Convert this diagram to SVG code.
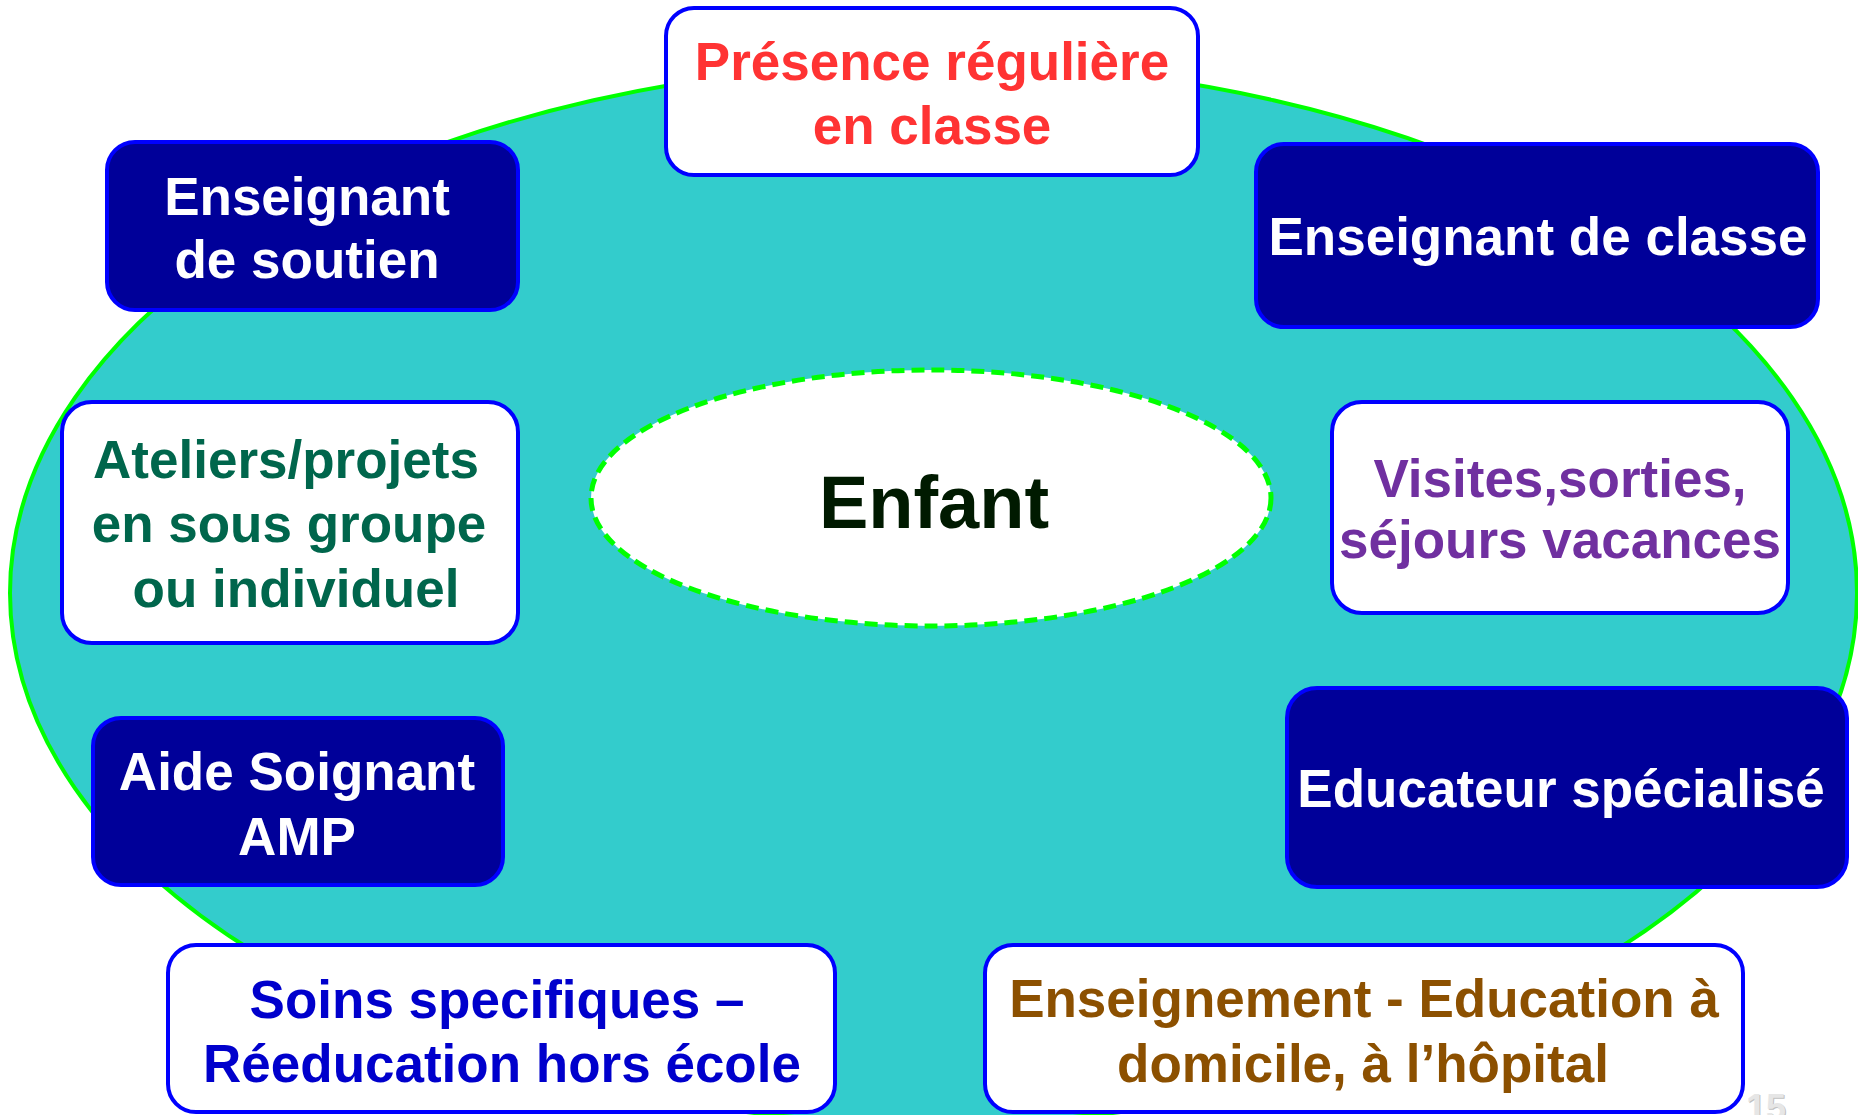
<svg xmlns="http://www.w3.org/2000/svg" width="1858" height="1115" viewBox="0 0 1858 1115">
  <style>
    text { font-family: "Liberation Sans", Arial, sans-serif; font-weight: bold; text-anchor: middle; }
    .lbl { font-size: 53px; }
    .box-dark { fill: #000099; stroke: #0000FF; stroke-width: 4; }
    .box-light { fill: #FFFFFF; stroke: #0000FF; stroke-width: 4; }
    .t-white { fill: #FFFFFF; }
    .t-red { fill: #FF3333; }
    .t-green { fill: #00664C; }
    .t-purple { fill: #7030A0; }
    .t-blue { fill: #0000CC; }
    .t-brown { fill: #8C5000; }
  </style>

  <rect width="1858" height="1115" fill="#FFFFFF"/>

  <!-- large background ellipse -->
  <g id="backdrop">
    <ellipse cx="933.5" cy="593" rx="923.5" ry="530" fill="#33CCCC" stroke="#00FF00" stroke-width="4"/>
  </g>

  <!-- central child ellipse -->
  <g id="enfant">
    <ellipse cx="931" cy="498" rx="340" ry="128" fill="#FFFFFF"/>
    <ellipse cx="931" cy="498" rx="340" ry="128" fill="none" stroke="#00FF00" stroke-width="5" stroke-dasharray="13 7"/>
    <text x="934" y="528" font-size="74" fill="#001A00">Enfant</text>
  </g>

  <g id="presence">
    <rect class="box-light" x="666" y="8" width="532" height="167" rx="28"/>
    <text class="lbl t-red" x="932" y="80">Présence régulière</text>
    <text class="lbl t-red" x="932" y="144">en classe</text>
  </g>

  <g id="enseignant-soutien">
    <rect class="box-dark" x="107" y="142" width="411" height="168" rx="28"/>
    <text class="lbl t-white" x="307" y="215">Enseignant</text>
    <text class="lbl t-white" x="307" y="278">de soutien</text>
  </g>

  <g id="enseignant-classe">
    <rect class="box-dark" x="1256" y="144" width="562" height="183" rx="28"/>
    <text class="lbl t-white" x="1538" y="255">Enseignant de classe</text>
  </g>

  <g id="ateliers">
    <rect class="box-light" x="62" y="402" width="456" height="241" rx="30"/>
    <text class="lbl t-green" x="286" y="478">Ateliers/projets</text>
    <text class="lbl t-green" x="289" y="542">en sous groupe</text>
    <text class="lbl t-green" x="296" y="607">ou individuel</text>
  </g>

  <g id="visites">
    <rect class="box-light" x="1332" y="402" width="456" height="211" rx="30"/>
    <text class="lbl t-purple" x="1560" y="497">Visites,sorties,</text>
    <text class="lbl t-purple" x="1560" y="558">séjours vacances</text>
  </g>

  <g id="aide-soignant">
    <rect class="box-dark" x="93" y="718" width="410" height="167" rx="28"/>
    <text class="lbl t-white" x="297" y="790">Aide Soignant</text>
    <text class="lbl t-white" x="297" y="855">AMP</text>
  </g>

  <g id="educateur">
    <rect class="box-dark" x="1287" y="688" width="560" height="199" rx="30"/>
    <text class="lbl t-white" x="1561" y="807">Educateur spécialisé</text>
  </g>

  <g id="soins">
    <rect class="box-light" x="168" y="945" width="667" height="167" rx="28"/>
    <text class="lbl t-blue" x="497" y="1018">Soins specifiques –</text>
    <text class="lbl t-blue" x="502" y="1082">Réeducation hors école</text>
  </g>

  <g id="enseignement">
    <rect class="box-light" x="985" y="945" width="758" height="167" rx="28"/>
    <text class="lbl t-brown" x="1364" y="1017">Enseignement - Education à</text>
    <text class="lbl t-brown" x="1363" y="1082">domicile, à l’hôpital</text>
  </g>

  <!-- slide page number, partly below the bottom edge -->
  <g id="page-number">
    <text x="1767" y="1121" font-size="36" font-weight="normal" fill="#BFBFBF">15</text>
    <text x="1766" y="1120" font-size="36" font-weight="normal" fill="#E6E6E6">15</text>
  </g>
</svg>
